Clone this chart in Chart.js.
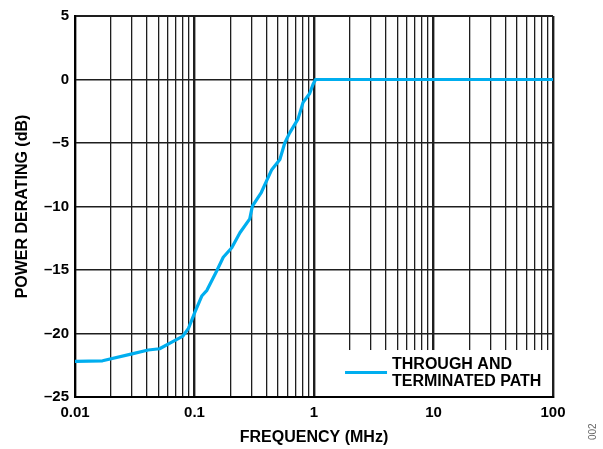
<!DOCTYPE html>
<html>
<head>
<meta charset="utf-8">
<script src="https://cdn.jsdelivr.net/npm/chart.js@4.4.0/dist/chart.umd.min.js"></script>
<style>
  html, body { margin: 0; padding: 0; background: #fff; }
  #wrap { width: 603px; height: 449px; position: relative; }
</style>
</head>
<body>
<div id="wrap"><canvas id="deratingChart"></canvas></div>
<script>
// Values
const freqMHz = [0.01, 0.017, 0.03, 0.041, 0.051, 0.064, 0.08, 0.089, 0.101, 0.115, 0.127, 0.153,
    0.174, 0.205, 0.24, 0.29, 0.305, 0.362, 0.40, 0.443, 0.518, 0.569, 0.626, 0.736, 0.81,
    0.92, 0.98, 1.03, 100];
const deratingDb = [-22.2, -22.15, -21.6, -21.3, -21.2, -20.7, -20.2, -19.6, -18.3, -17.05, -16.6, -15.1,
    -14.0, -13.25, -12.07, -10.97, -9.97, -8.9, -8.0, -7.1, -6.3, -5.0, -4.2, -3.1, -1.8,
    -1.1, -0.4, 0, 0];

const xDecades = [0.01, 0.1, 1, 10, 100];
const xMultiples = [1, 2, 3, 4, 5, 6, 7, 8, 9];
const yTicks = [-25, -20, -15, -10, -5, 0, 5];
const legendLines = ['THROUGH AND', 'TERMINATED PATH'];
const figureId = '002';

const FONT = '"Liberation Sans", Arial, Helvetica, sans-serif';
const LINE_COLOR = '#00aeef';
const GRID_COLOR = '#1e1e1e';

const xTickValues = [];
xDecades.slice(0, -1).forEach(d => {
    xMultiples.forEach(m => xTickValues.push(+(d * m).toPrecision(3)));
});
xTickValues.push(xDecades[xDecades.length - 1]);

const isDecade = v => xDecades.some(d => Math.abs(d - v) < d * 1e-6);

// White legend panel in the lower right corner, over the grid
const legendPanel = {
    id: 'legendPanel',
    beforeDatasetsDraw(chart) {
        const { ctx, chartArea, scales } = chart;
        const left = scales.x.getPixelForValue(1.04);
        const top = scales.y.getPixelForValue(-21.3);
        const right = chartArea.right - 1;
        const bottom = chartArea.bottom - 1;
        ctx.save();
        ctx.fillStyle = '#fff';
        ctx.fillRect(left, top, right - left, bottom - top);

        const midY = (top + bottom) / 2;
        ctx.strokeStyle = LINE_COLOR;
        ctx.lineWidth = 3;
        ctx.beginPath();
        ctx.moveTo(left + 29, midY - 0.5);
        ctx.lineTo(left + 71, midY - 0.5);
        ctx.stroke();

        ctx.fillStyle = '#000';
        ctx.font = 'bold 16px ' + FONT;
        ctx.textBaseline = 'middle';
        ctx.textAlign = 'left';
        ctx.fillText(legendLines[0], left + 76, midY - 8);
        ctx.fillText(legendLines[1], left + 76, midY + 9);
        ctx.restore();
    },
    afterDraw(chart) {
        const { ctx } = chart;
        ctx.save();
        ctx.translate(chart.width - 10, chart.height - 9);
        ctx.rotate(-Math.PI / 2);
        ctx.fillStyle = '#666';
        ctx.font = '10px ' + FONT;
        ctx.textAlign = 'left';
        ctx.textBaseline = 'middle';
        ctx.fillText(figureId, 0, 0);
        ctx.restore();
    }
};

const ctx = document.getElementById('deratingChart');
new Chart(ctx, {
    type: 'line',
    data: {
        datasets: [{
            label: 'THROUGH AND TERMINATED PATH',
            data: freqMHz.map((f, i) => ({ x: f, y: deratingDb[i] })),
            borderColor: LINE_COLOR,
            borderWidth: 3.2,
            pointRadius: 0,
            tension: 0,
            fill: false,
            borderJoinStyle: 'round'
        }]
    },
    options: {
        responsive: true,
        maintainAspectRatio: false,
        animation: false,
        layout: {
            padding: { left: 0, right: 50, top: 16, bottom: 0 }
        },
        plugins: {
            legend: { display: false },
            tooltip: { enabled: false }
        },
        scales: {
            x: {
                type: 'logarithmic',
                min: 0.01,
                max: 100,
                afterBuildTicks: scale => {
                    scale.ticks = xTickValues.map(v => ({ value: v, major: isDecade(v) }));
                },
                afterFit: scale => { scale.height = 52; },
                grid: {
                    color: GRID_COLOR,
                    drawTicks: false,
                    lineWidth: c => (c.tick && isDecade(c.tick.value)) ? 2.4 : 1.3
                },
                border: { color: '#000', width: 2 },
                ticks: {
                    autoSkip: false,
                    maxRotation: 0,
                    padding: 7,
                    color: '#000',
                    font: { family: FONT, size: 15, weight: 'bold' },
                    callback: v => isDecade(v) ? String(v) : ''
                },
                title: {
                    display: true,
                    text: 'FREQUENCY (MHz)',
                    color: '#000',
                    font: { family: FONT, size: 16, weight: 'bold' },
                    padding: { top: 0, bottom: 2 }
                }
            },
            y: {
                min: yTicks[0],
                max: yTicks[yTicks.length - 1],
                afterBuildTicks: scale => {
                    scale.ticks = yTicks.map(v => ({ value: v }));
                },
                afterFit: scale => { scale.width = 75; },
                grid: {
                    color: GRID_COLOR,
                    drawTicks: false,
                    lineWidth: c => (c.tick && c.tick.value === 5) ? 2 : 1.5
                },
                border: { color: '#000', width: 2 },
                ticks: {
                    padding: 6,
                    color: '#000',
                    font: { family: FONT, size: 15, weight: 'bold' },
                    callback: v => v < 0 ? '\u2013' + Math.abs(v) : String(v)
                },
                title: {
                    display: true,
                    text: 'POWER DERATING (dB)',
                    color: '#000',
                    font: { family: FONT, size: 16, weight: 'bold' },
                    padding: { top: 13, bottom: 0 }
                }
            }
        }
    },
    plugins: [legendPanel]
});
</script>
</body>
</html>
